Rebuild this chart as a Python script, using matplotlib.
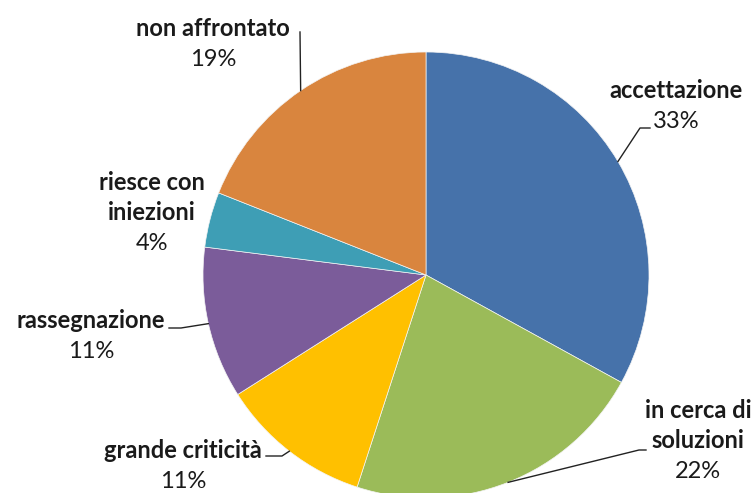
import numpy as np
import matplotlib.pyplot as plt

categories = ["accettazione", "in cerca di\nsoluzioni", "grande criticità",
              "rassegnazione", "riesce con\niniezioni", "non affrontato"]
shares = [33, 22, 11, 11, 4, 19]
colors = ["#4672AA", "#9BBB59", "#FFC000", "#7B5C9A", "#3E9EB5", "#D9853E"]

# first-line centre of each label and leader elbow points, pixel coords (y down)
label_pos = [(676, 90), (698, 410), (183, 450), (91, 320), (152, 182), (213, 28)]
leader_pts = [[(650, 128), (640, 128)],
              [(646, 450), (639, 450)],
              [(266, 456), (282, 456)],
              [(169, 328), (181, 328)],
              None,
              [(300, 32)]]

W, H = 756, 493
cx, cy, r = 426, 275, 223
step = 31

fig = plt.figure(figsize=(W / 100, H / 100), dpi=100)
ax = fig.add_axes([0, 0, 1, 1])

wedges, _ = ax.pie(shares, colors=colors, startangle=90, counterclock=False,
                   center=(cx, H - cy), radius=r, frame=True,
                   wedgeprops=dict(linewidth=0.5, edgecolor="#f4f4f4"))
ax.set_xlim(0, W)
ax.set_ylim(0, H)
ax.set_aspect("equal")
ax.axis("off")

font = ["Lato", "DejaVu Sans"]
for w, name, val, (lx, ly), pts in zip(wedges, categories, shares, label_pos, leader_pts):
    lines = name.split("\n")
    for i, line in enumerate(lines):
        ax.text(lx, H - (ly + step * i), line, ha="center", va="center",
                fontsize=17, fontweight="bold", family=font, color="#1a1a1a")
    ax.text(lx, H - (ly + step * len(lines)), f"{val}%", ha="center", va="center",
            fontsize=17, family=font, color="#1a1a1a")
    if pts is not None:
        mid = np.deg2rad((w.theta1 + w.theta2) / 2)
        ex, ey = cx + r * np.cos(mid), H - cy + r * np.sin(mid)
        xs = [p[0] for p in pts] + [ex]
        ys = [H - p[1] for p in pts] + [ey]
        ax.plot(xs, ys, color="#222222", lw=1)

fig.savefig("out.png", dpi=100, facecolor="white")
